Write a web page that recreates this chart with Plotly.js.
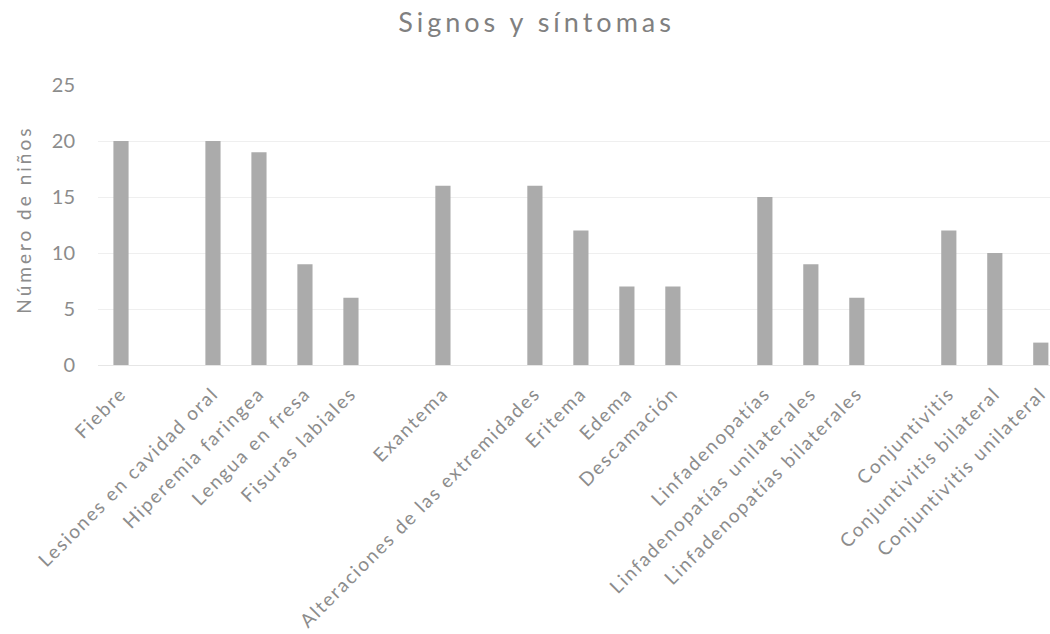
<!DOCTYPE html>
<html>
<head>
<meta charset="utf-8">
<script src="https://cdn.plot.ly/plotly-3.0.1.min.js"></script>
<style>
  html, body { margin: 0; padding: 0; background: #ffffff; }
  #chart { width: 1050px; height: 634px; }
  /* airy, widely spaced lettering for the chart texts */
  #chart .gtitle { letter-spacing: 4px; }
  #chart .xtick text { letter-spacing: 1.8px; }
  #chart .annotation-text { letter-spacing: 3px; }
</style>
</head>
<body>
<div id="chart"></div>
<script>
// Signs and symptoms, grouped; empty strings leave a blank slot between groups
const categories = [
  "Fiebre", "",
  "Lesiones en cavidad oral", "Hiperemia faringea", "Lengua en fresa", "Fisuras labiales", "",
  "Exantema", "",
  "Alteraciones de las extremidades", "Eritema", "Edema", "Descamación", "",
  "Linfadenopatías", "Linfadenopatías unilaterales", "Linfadenopatías bilaterales", "",
  "Conjuntivitis", "Conjuntivitis bilateral", "Conjuntivitis unilateral"
];
const ninos = [
  20, null,
  20, 19, 9, 6, null,
  16, null,
  16, 12, 7, 7, null,
  15, 9, 6, null,
  12, 10, 2
];
const yTicks = [0, 5, 10, 15, 20, 25];
const yTitle = "Número de niños";

const slots = categories.map((_, i) => i);
const font = "Lato, 'Open Sans', sans-serif";
const grey = "#8c8c8c";

const trace = {
  type: "bar",
  x: slots,
  y: ninos,
  marker: { color: "#ababab", line: { width: 0 } },
  hoverinfo: "skip"
};

const layout = {
  width: 1050,
  height: 634,
  margin: { l: 98, r: 0, t: 85, b: 269 },
  paper_bgcolor: "#ffffff",
  plot_bgcolor: "#ffffff",
  bargap: 0.67,
  showlegend: false,
  font: { family: font, color: grey },
  title: {
    text: "Signos y síntomas",
    font: { family: font, size: 27, color: "#808080" },
    x: 0.511, xanchor: "center",
    y: 0.965, yanchor: "middle"
  },
  xaxis: {
    range: [-0.5, 20.2],
    tickmode: "array",
    tickvals: slots,
    ticktext: categories,
    tickangle: -45,
    tickfont: { family: font, size: 19, color: grey },
    ticks: "",
    ticklabelstandoff: 9,
    ticklabeloverflow: "allow",
    showgrid: false,
    zeroline: false,
    showline: true,
    linecolor: "#e6e6e6",
    linewidth: 1,
    fixedrange: true
  },
  yaxis: {
    range: [0, 25],
    tickmode: "array",
    tickvals: yTicks,
    ticktext: yTicks.map(String),
    tickfont: { family: font, size: 20, color: grey },
    ticks: "",
    ticklabelstandoff: 22,
    showgrid: true,
    gridcolor: "#efefef",
    gridwidth: 1,
    zeroline: false,
    showline: false,
    fixedrange: true
  },
  // vertical axis title, set a little further out than the axis title would sit
  annotations: [{
    text: yTitle,
    textangle: -90,
    xref: "paper", yref: "paper",
    x: -0.078, y: 0.52,
    xanchor: "center", yanchor: "middle",
    showarrow: false,
    font: { family: font, size: 19, color: grey }
  }]
};

Plotly.newPlot("chart", [trace], layout, { displayModeBar: false, staticPlot: true });
</script>
</body>
</html>
